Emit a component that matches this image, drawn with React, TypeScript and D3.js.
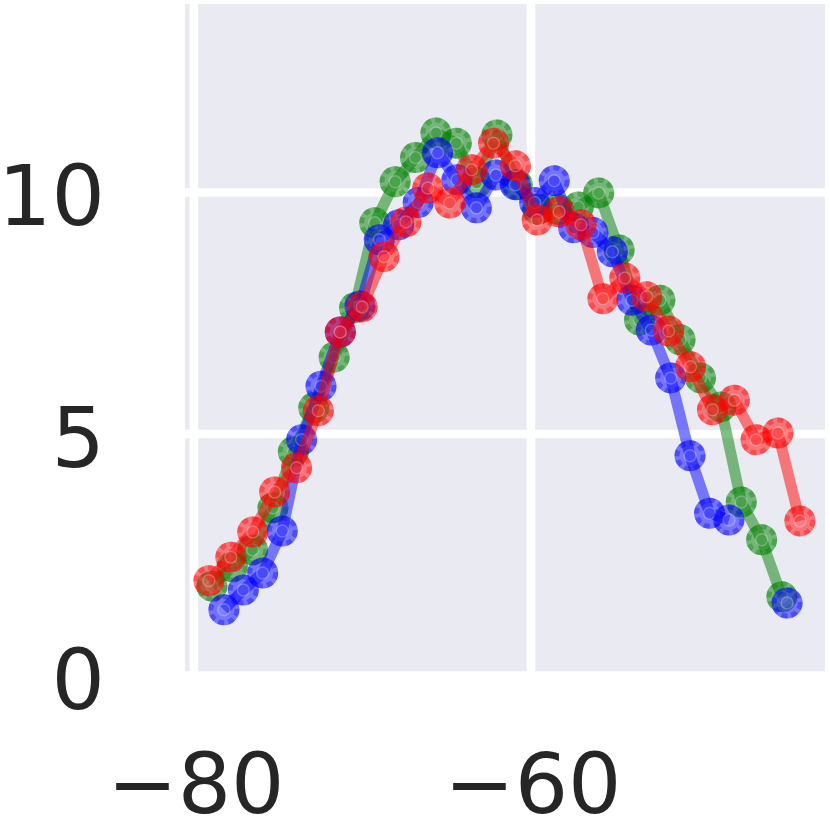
import React from "react";
import * as d3 from "d3";

const greenX = [-78.93, -77.72, -76.52, -75.31, -74.10, -72.89, -71.68, -70.47, -69.27, -68.06, -66.85, -65.64, -64.43, -63.23, -62.02, -60.81, -59.60, -58.39, -57.19, -55.98, -54.77, -53.56, -52.35, -51.15, -49.94, -48.73, -47.52, -46.31, -45.11];
const greenY = [1.85, 2.25, 2.60, 3.47, 4.63, 5.54, 6.59, 7.61, 9.37, 10.22, 10.72, 11.23, 11.02, 10.20, 11.19, 10.16, 9.65, 9.65, 9.70, 9.99, 8.81, 7.36, 7.77, 6.95, 6.16, 5.56, 3.59, 2.81, 1.63];

// two readings are missing in the blue series (gap in the line)
const blueX = [-78.22, -77.07, -75.92, -74.76, -73.61, -72.46, -71.31, -70.15, -69.00, -67.85, -66.69, -65.54, -64.39, -63.24, -62.08, -60.93, -59.78, -58.62, -57.47, -56.32, -55.17, -54.01, -52.86, -51.71, -50.56, -49.40, -48.25, -47.10, -45.95, -44.80];
const blueY = [1.36, 1.77, 2.12, 2.99, 4.88, 5.99, 7.11, 7.65, 9.02, 9.33, 9.79, 10.82, 10.26, 9.68, 10.36, 10.16, 9.79, 10.24, 9.27, 9.17, 8.77, 7.77, 7.15, 6.16, 4.55, 3.36, 3.22, NaN, NaN, 1.50];

const redX = [-79.11, -77.81, -76.51, -75.21, -73.91, -72.62, -71.32, -70.02, -68.72, -67.42, -66.12, -64.82, -63.52, -62.22, -60.92, -59.63, -58.33, -57.03, -55.73, -54.43, -53.13, -51.83, -50.53, -49.23, -47.93, -46.64, -45.34, -44.04];
const redY = [1.96, 2.45, 2.97, 3.80, 4.30, 5.48, 7.11, 7.63, 8.67, 9.39, 10.09, 9.78, 10.47, 11.02, 10.55, 9.43, 9.60, 9.33, 7.80, 8.23, 7.84, 7.13, 6.39, 5.50, 5.70, 4.88, 5.02, 3.20];

const xTicks = [-80, -60];
const yTicks = [0, 5, 10];

const seriesList = [
  { name: "green", color: "#008000", xs: greenX, ys: greenY },
  { name: "blue", color: "#0000ff", xs: blueX, ys: blueY },
  { name: "red", color: "#ff0000", xs: redX, ys: redY },
];

export default function App() {
  const W = 830;
  const H = 830;
  const left = 185;
  const right = 825;
  const top = 4;
  const bottom = 675.5;

  const x = d3.scaleLinear().domain([-80.53, -42.55]).range([left, right]);
  const y = d3.scaleLinear().domain([0, 13.9]).range([bottom, top]);

  const line = d3
    .line<[number, number]>()
    .defined((d) => Number.isFinite(d[1]))
    .x((d) => x(d[0]))
    .y((d) => y(d[1]));

  const fmt = (v: number) => (v < 0 ? "\u2212" + Math.abs(v) : String(v));
  const font = "'DejaVu Sans', sans-serif";
  const fs = 84;

  return (
    <svg
      width={W}
      height={H}
      style={{ position: "absolute", left: 0, top: 0, background: "#ffffff" }}
    >
      <defs>
        <clipPath id="axclip">
          <rect x={left} y={top} width={right - left} height={bottom - top} />
        </clipPath>
      </defs>
      <rect x={left} y={top} width={right - left} height={bottom - top} fill="#EAEAF2" />
      {xTicks.map((t) => (
        <line key={"gx" + t} x1={x(t)} x2={x(t)} y1={top} y2={bottom} stroke="#ffffff" strokeWidth={8.5} />
      ))}
      {yTicks.map((t) => (
        <line key={"gy" + t} x1={left} x2={right} y1={y(t)} y2={y(t)} stroke="#ffffff" strokeWidth={8.5} />
      ))}
      <g clipPath="url(#axclip)">
        {seriesList.map((s) => {
          const pts: [number, number][] = s.xs.map((v, i) => [v, s.ys[i]]);
          const shown = pts.filter((p) => Number.isFinite(p[1]));
          return (
            <g key={s.name}>
              <path d={line(pts) || ""} fill="none" stroke={s.color} strokeOpacity={0.5} strokeWidth={11} strokeLinejoin="round" />
              {shown.map((p, i) => (
                <g key={i}>
                  <circle cx={x(p[0])} cy={y(p[1])} r={15.5} fill={s.color} fillOpacity={0.5} />
                  <circle
                    cx={x(p[0])}
                    cy={y(p[1])}
                    r={13}
                    fill="none"
                    stroke={s.color}
                    strokeOpacity={0.35}
                    strokeWidth={5}
                    strokeDasharray="6 4"
                  />
                  <circle cx={x(p[0])} cy={y(p[1])} r={6} fill="#ffffff" fillOpacity={0.08} stroke="#ffffff" strokeOpacity={0.25} strokeWidth={1.5} />
                </g>
              ))}
            </g>
          );
        })}
      </g>
      {yTicks.map((t) => (
        <text key={"ty" + t} x={105} y={y(t) + 33} textAnchor="end" fontFamily={font} fontSize={fs} fill="#262626">
          {fmt(t)}
        </text>
      ))}
      {xTicks.map((t) => (
        <text key={"tx" + t} x={x(t) + 2} y={813} textAnchor="middle" fontFamily={font} fontSize={fs} fill="#262626">
          {fmt(t)}
        </text>
      ))}
    </svg>
  );
}
